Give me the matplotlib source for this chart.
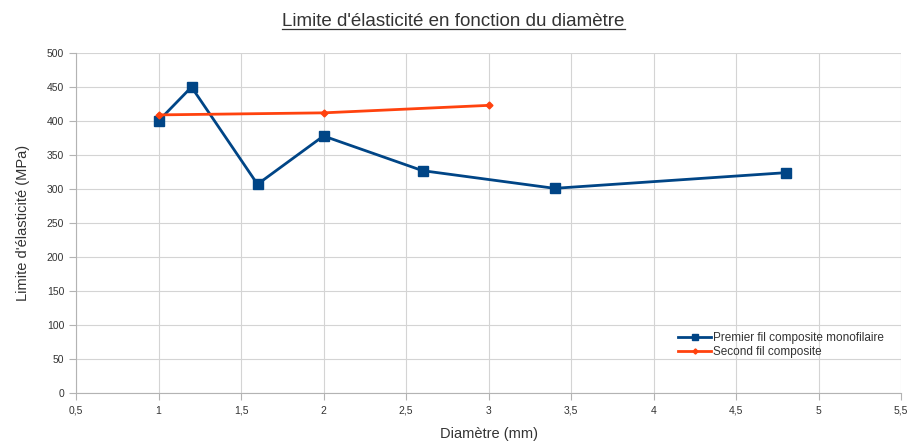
import matplotlib.pyplot as plt
from matplotlib.lines import Line2D

plt.rcParams['font.family'] = ['Liberation Sans', 'DejaVu Sans']

# diameters (mm) and yield strength (MPa)
diam_mono = [1, 1.2, 1.6, 2, 2.6, 3.4, 4.8]
limite_mono = [400, 450, 307, 378, 327, 301, 324]
diam_comp = [1, 2, 3]
limite_comp = [409, 412, 423]

x_ticks = [0.5, 1, 1.5, 2, 2.5, 3, 3.5, 4, 4.5, 5, 5.5]
y_ticks = list(range(0, 501, 50))

fig = plt.figure(figsize=(9.07, 4.41), dpi=100)
ax = fig.add_axes([0.0838, 0.1088, 0.9096, 0.771])

ax.plot(diam_mono, limite_mono, color='#004586', lw=2, marker='s', ms=6.5,
        label='Premier fil composite monofilaire')
ax.plot(diam_comp, limite_comp, color='#ff420e', lw=2, marker='D', ms=3.5,
        label='Second fil composite')

ax.set_xlim(0.5, 5.5)
ax.set_ylim(0, 500)
ax.set_xticks(x_ticks)
ax.set_xticklabels([str(v).replace('.', ',') for v in x_ticks])
ax.set_yticks(y_ticks)
ax.grid(True, color='#d4d4d4', lw=0.8)
ax.set_axisbelow(True)
for s in ax.spines.values():
    s.set_visible(False)
ax.spines['left'].set_visible(True)
ax.spines['bottom'].set_visible(True)
ax.spines['left'].set_color('#b3b3b3')
ax.spines['bottom'].set_color('#b3b3b3')
ax.tick_params(colors='#b3b3b3', labelcolor='#333333', labelsize=7.5, length=5, width=0.8)
ax.tick_params(axis='x', pad=4)

ax.set_xlabel('Diamètre (mm)', fontsize=10.5, color='#333333', labelpad=8)
ax.set_ylabel("Limite d'élasticité (MPa)", fontsize=10.5, color='#333333', labelpad=12)

leg = ax.legend(loc='lower right', bbox_to_anchor=(0.985, 0.09), frameon=False,
                fontsize=8.5, handlelength=2.8, handletextpad=0.15, labelspacing=0.15,
                borderaxespad=0, markerscale=0.75)
for t in leg.get_texts():
    t.set_color('#333333')

# title with underline
title = fig.text(0.5, 0.952, "Limite d'élasticité en fonction du diamètre",
                 ha='center', va='center', fontsize=13.5, color='#333333')
fig.canvas.draw()
bb = title.get_window_extent().transformed(fig.transFigure.inverted())
fig.add_artist(Line2D([bb.x0, bb.x1], [bb.y0 + 0.002, bb.y0 + 0.002],
                      transform=fig.transFigure, color='#333333', lw=0.9))

fig.savefig('out.png', dpi=100)
